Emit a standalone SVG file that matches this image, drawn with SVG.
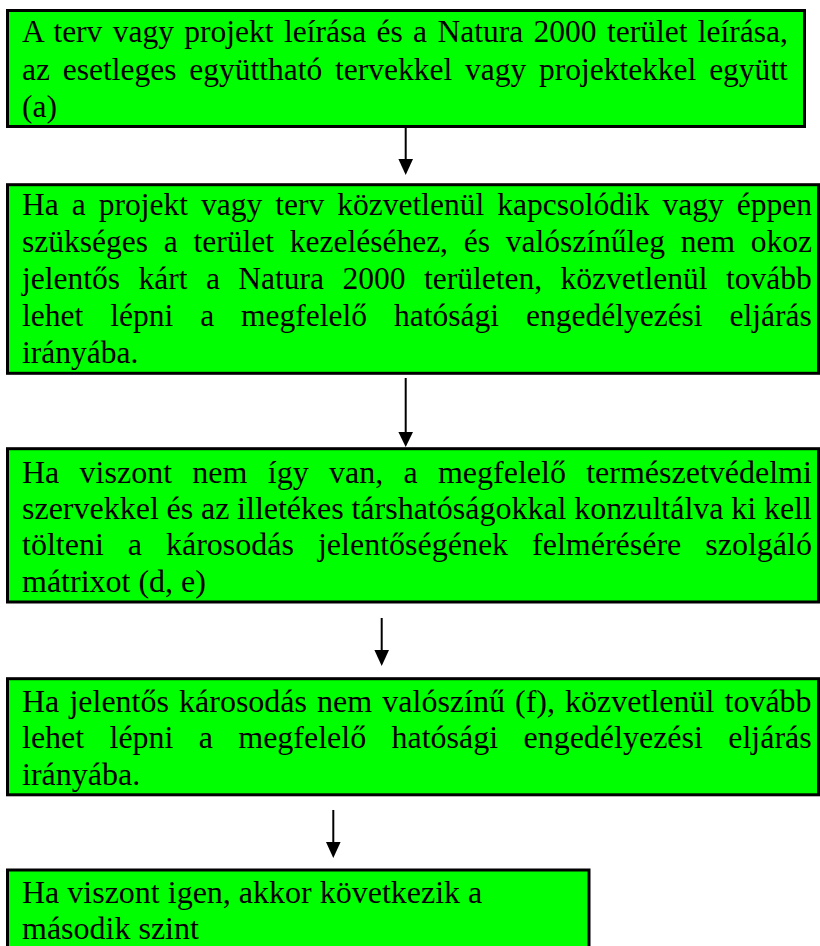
<svg xmlns="http://www.w3.org/2000/svg" width="820" height="946" viewBox="0 0 820 946">
<style>
.box{fill:#00ff00;stroke:#000;stroke-width:3}
.t{font-family:"Liberation Serif","Times New Roman",serif;fill:#000}
.s1{font-size:31.5px}
.s2{font-size:32px}
.conn{stroke:#000;stroke-width:2;fill:none}
.head{fill:#000}
</style>
<rect width="820" height="946" fill="#fff"/>
<g id="node1">
<rect class="box" x="7.5" y="10.5" width="797" height="116"/>
<text class="t s1" x="22" y="42" word-spacing="2.5">A terv vagy projekt leírása és a Natura 2000 terület leírása,</text>
<text class="t s1" x="22" y="79.5" word-spacing="4.9">az esetleges együttható tervekkel vagy projektekkel együtt</text>
<text class="t s1" x="22" y="117">(a)</text>
</g>
<g id="node2">
<rect class="box" x="7.5" y="184.7" width="811" height="188.6"/>
<text class="t s1" x="22" y="215" word-spacing="5.15">Ha a projekt vagy terv közvetlenül kapcsolódik vagy éppen</text>
<text class="t s1" x="22" y="252" word-spacing="7.9">szükséges a terület kezeléséhez, és valószínűleg nem okoz</text>
<text class="t s1" x="22" y="289" word-spacing="10.6">jelentős kárt a Natura 2000 területen, közvetlenül tovább</text>
<text class="t s1" x="22" y="326" word-spacing="19.1">lehet lépni a megfelelő hatósági engedélyezési eljárás</text>
<text class="t s1" x="22" y="363">irányába.</text>
</g>
<g id="node3">
<rect class="box" x="7.5" y="448.7" width="811" height="153.3"/>
<text class="t s2" x="22" y="482.5" word-spacing="12.3">Ha viszont nem így van, a megfelelő természetvédelmi</text>
<text class="t s2" x="22" y="518.8" word-spacing="-0.26">szervekkel és az illetékes társhatóságokkal konzultálva ki kell</text>
<text class="t s2" x="22" y="555" word-spacing="16">tölteni a károsodás jelentőségének felmérésére szolgáló</text>
<text class="t s2" x="22" y="591.5">mátrixot (d, e)</text>
</g>
<g id="node4">
<rect class="box" x="7.5" y="678.7" width="811" height="116.1"/>
<text class="t s2" x="22" y="711.7" word-spacing="2.1">Ha jelentős károsodás nem valószínű (f), közvetlenül tovább</text>
<text class="t s2" x="22" y="748" word-spacing="17.3">lehet lépni a megfelelő hatósági engedélyezési eljárás</text>
<text class="t s2" x="22" y="784.5">irányába.</text>
</g>
<g id="node5">
<rect class="box" x="7.5" y="870" width="581.5" height="79"/>
<text class="t s2" x="22" y="903">Ha viszont igen, akkor következik a</text>
<text class="t s2" x="22" y="939">második szint</text>
</g>
<g id="connectors">
<line class="conn" x1="405.7" y1="128" x2="405.7" y2="161"/>
<polygon class="head" points="398.4,159 413,159 405.7,175"/>
<line class="conn" x1="405.7" y1="378" x2="405.7" y2="434"/>
<polygon class="head" points="398.4,432 413,432 405.7,447"/>
<line class="conn" x1="381.7" y1="618" x2="381.7" y2="652"/>
<polygon class="head" points="374.4,650 389,650 381.7,666"/>
<line class="conn" x1="333.3" y1="810" x2="333.3" y2="844"/>
<polygon class="head" points="326,842 340.6,842 333.3,858"/>
</g>
</svg>
